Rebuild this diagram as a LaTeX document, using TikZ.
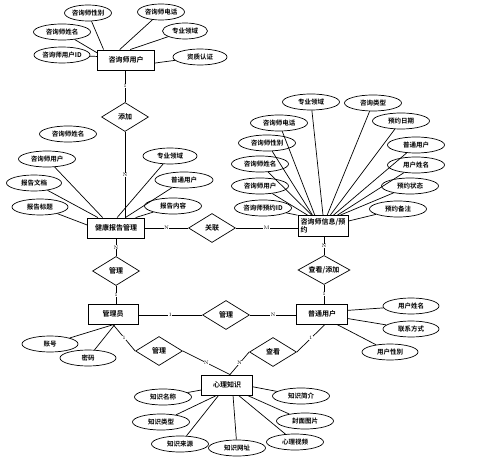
\documentclass[tikz,border=0pt]{standalone}
\usepackage{fontspec}
\newfontfamily\cjk{Noto Sans CJK SC}[BoldFont={Noto Sans CJK SC Bold}]
\usetikzlibrary{shapes.geometric}
\tikzset{
  entity/.style={draw, line width=0.9pt, minimum height=20pt, inner sep=1pt,
    font=\cjk\bfseries\fontsize{7}{8}\selectfont},
  attr/.style={draw, ellipse, line width=0.7pt, minimum height=16pt, inner sep=0pt,
    font=\cjk\bfseries\fontsize{6.5}{7}\selectfont},
  rel/.style={draw, diamond, aspect=1.6, line width=0.7pt, minimum width=47pt,
    minimum height=29pt, inner sep=0pt, font=\cjk\bfseries\fontsize{7}{8}\selectfont},
  link/.style={line width=0.7pt},
  card/.style={font=\fontsize{5}{5}\selectfont, inner sep=0.4pt, fill=white},
}

\begin{document}
\begin{tikzpicture}[x=1pt, y=-1pt]
\useasboundingbox (0,0) rectangle (479,462);

%% ---- entities ----------------------------------------------------------
\node[entity, minimum width=57pt] (cuser) at (126,60) {咨询师用户};
\node[entity, minimum width=57pt] (report) at (116,228) {健康报告管理};
\node[entity, minimum width=50pt, minimum height=21pt, align=left] (consult)
  at (323,226) {咨询师信息/预\\约};
\node[entity, minimum width=50pt] (admin) at (113,314) {管理员};
\node[entity, minimum width=51pt] (puser) at (322,314) {普通用户};
\node[entity, minimum width=51pt] (know) at (227,385) {心理知识};

%% ---- relationships -----------------------------------------------------
\node[rel] (rAdd) at (125,117) {添加};
\node[rel] (rLink) at (212,228) {关联};
\node[rel] (rMgrA) at (116,271) {管理};
\node[rel, minimum width=52pt] (rView) at (324,270) {查看/添加};
\node[rel] (rMgrB) at (226,315) {管理};
\node[rel] (rMgrC) at (159,351) {管理};
\node[rel] (rSee) at (273,352) {查看};

\draw[link] (cuser.south -| rAdd) -- node[card] {1} (rAdd.north);
\draw[link] (rAdd.south) -- node[card] {N} (rAdd.south |- report.north);
\draw[link] (report.east |- rLink) -- node[card] {N} (rLink.west);
\draw[link] (rLink.east) -- node[card] {M} (rLink.east -| consult.west);
\draw[link] (report.south -| rMgrA) -- node[card] {N} (rMgrA.north);
\draw[link] (rMgrA.south) -- node[card] {1} (rMgrA.south |- admin.north);
\draw[link] (consult.south -| rView) -- node[card] {N} (rView.north);
\draw[link] (rView.south) -- node[card] {1} (rView.south |- puser.north);
\draw[link] (rMgrB.west -| admin.east) -- node[card] {1} (rMgrB.west);
\draw[link] (rMgrB.east) -- node[card] {N} (rMgrB.east -| puser.west);
\draw[link] (admin.south) -- node[card] {1} (rMgrC.west);
\draw[link] (rMgrC.east) -- node[card] {N} ([xshift=3pt]know.north);
\draw[link] ([xshift=3pt]puser.south) -- node[card] {1} (rSee.east);
\draw[link] (rSee.west) -- node[card] {N} ([xshift=3pt]know.north);

%% ---- attributes: text/x/y/width/anchor angle on the entity --------------
\foreach \t/\x/\y/\w/\a [count=\i] in
    {咨询师性别/88/13/47/155, 咨询师电话/161/12/47/121, 咨询师姓名/62/32/57/166,
     专业领域/185/31/45/68, 咨询师用户ID/62/55/56/173, 资质认证/200/57/54/-6} {
  \node[attr, minimum width=\w pt] (cu\i) at (\x,\y) {\t};
  \draw[link] (cuser.\a) -- (cu\i);
}

% the lone name ellipse above the report is not linked
\node[attr, minimum width=57pt] (reName) at (68,134) {咨询师姓名};
\foreach \t/\x/\y/\w/\a [count=\i] in
    {咨询师用户/47/159/57/142, 报告文档/34/183/55/150, 报告标题/40/207/56/174,
     专业领域/170/156/54/84, 普通用户/184/180/58/48, 报告内容/173/206/57/28} {
  \node[attr, minimum width=\w pt] (re\i) at (\x,\y) {\t};
  \draw[link] (report.\a) -- (re\i);
}

\foreach \t/\x/\y/\a [count=\i] in
    {专业领域/311/102/90, 咨询类型/373/103/69, 咨询师电话/279/123/127,
     预约日期/401/121/56, 咨询师性别/267/143/134, 普通用户/416/145/46,
     咨询师姓名/260/164/136, 用户姓名/416/165/37, 咨询师用户/260/186/145,
     预约状态/410/186/32, 咨询师预约ID/263/208/157, 预约备注/398/209/11} {
  \node[attr, minimum width=57pt] (co\i) at (\x,\y) {\t};
  \draw[link] (consult.\a) -- (co\i);
}

\foreach \t/\x/\y/\a [count=\i] in {账号/50/344/-85, 密码/88/358/-80} {
  \node[attr, minimum width=56pt] (ad\i) at (\x,\y) {\t};
  \draw[link] (admin.\a) -- (ad\i);
}

\foreach \t/\x/\y/\a [count=\i] in
    {用户姓名/411/306/8, 联系方式/411/329/-10, 用户性别/390/352/-35} {
  \node[attr, minimum width=56pt] (pu\i) at (\x,\y) {\t};
  \draw[link] (puser.\a) -- (pu\i);
}

\foreach \t/\x/\y/\a [count=\i] in
    {知识名称/163/397/191, 知识类型/161/422/225, 知识来源/180/444/231,
     知识网址/237/448/-60, 心理视频/295/442/-42, 封面图片/305/421/-27,
     知识简介/301/396/-4} {
  \node[attr, minimum width=57pt] (kn\i) at (\x,\y) {\t};
  \draw[link] (know.\a) -- (kn\i);
}

\end{tikzpicture}
\end{document}
